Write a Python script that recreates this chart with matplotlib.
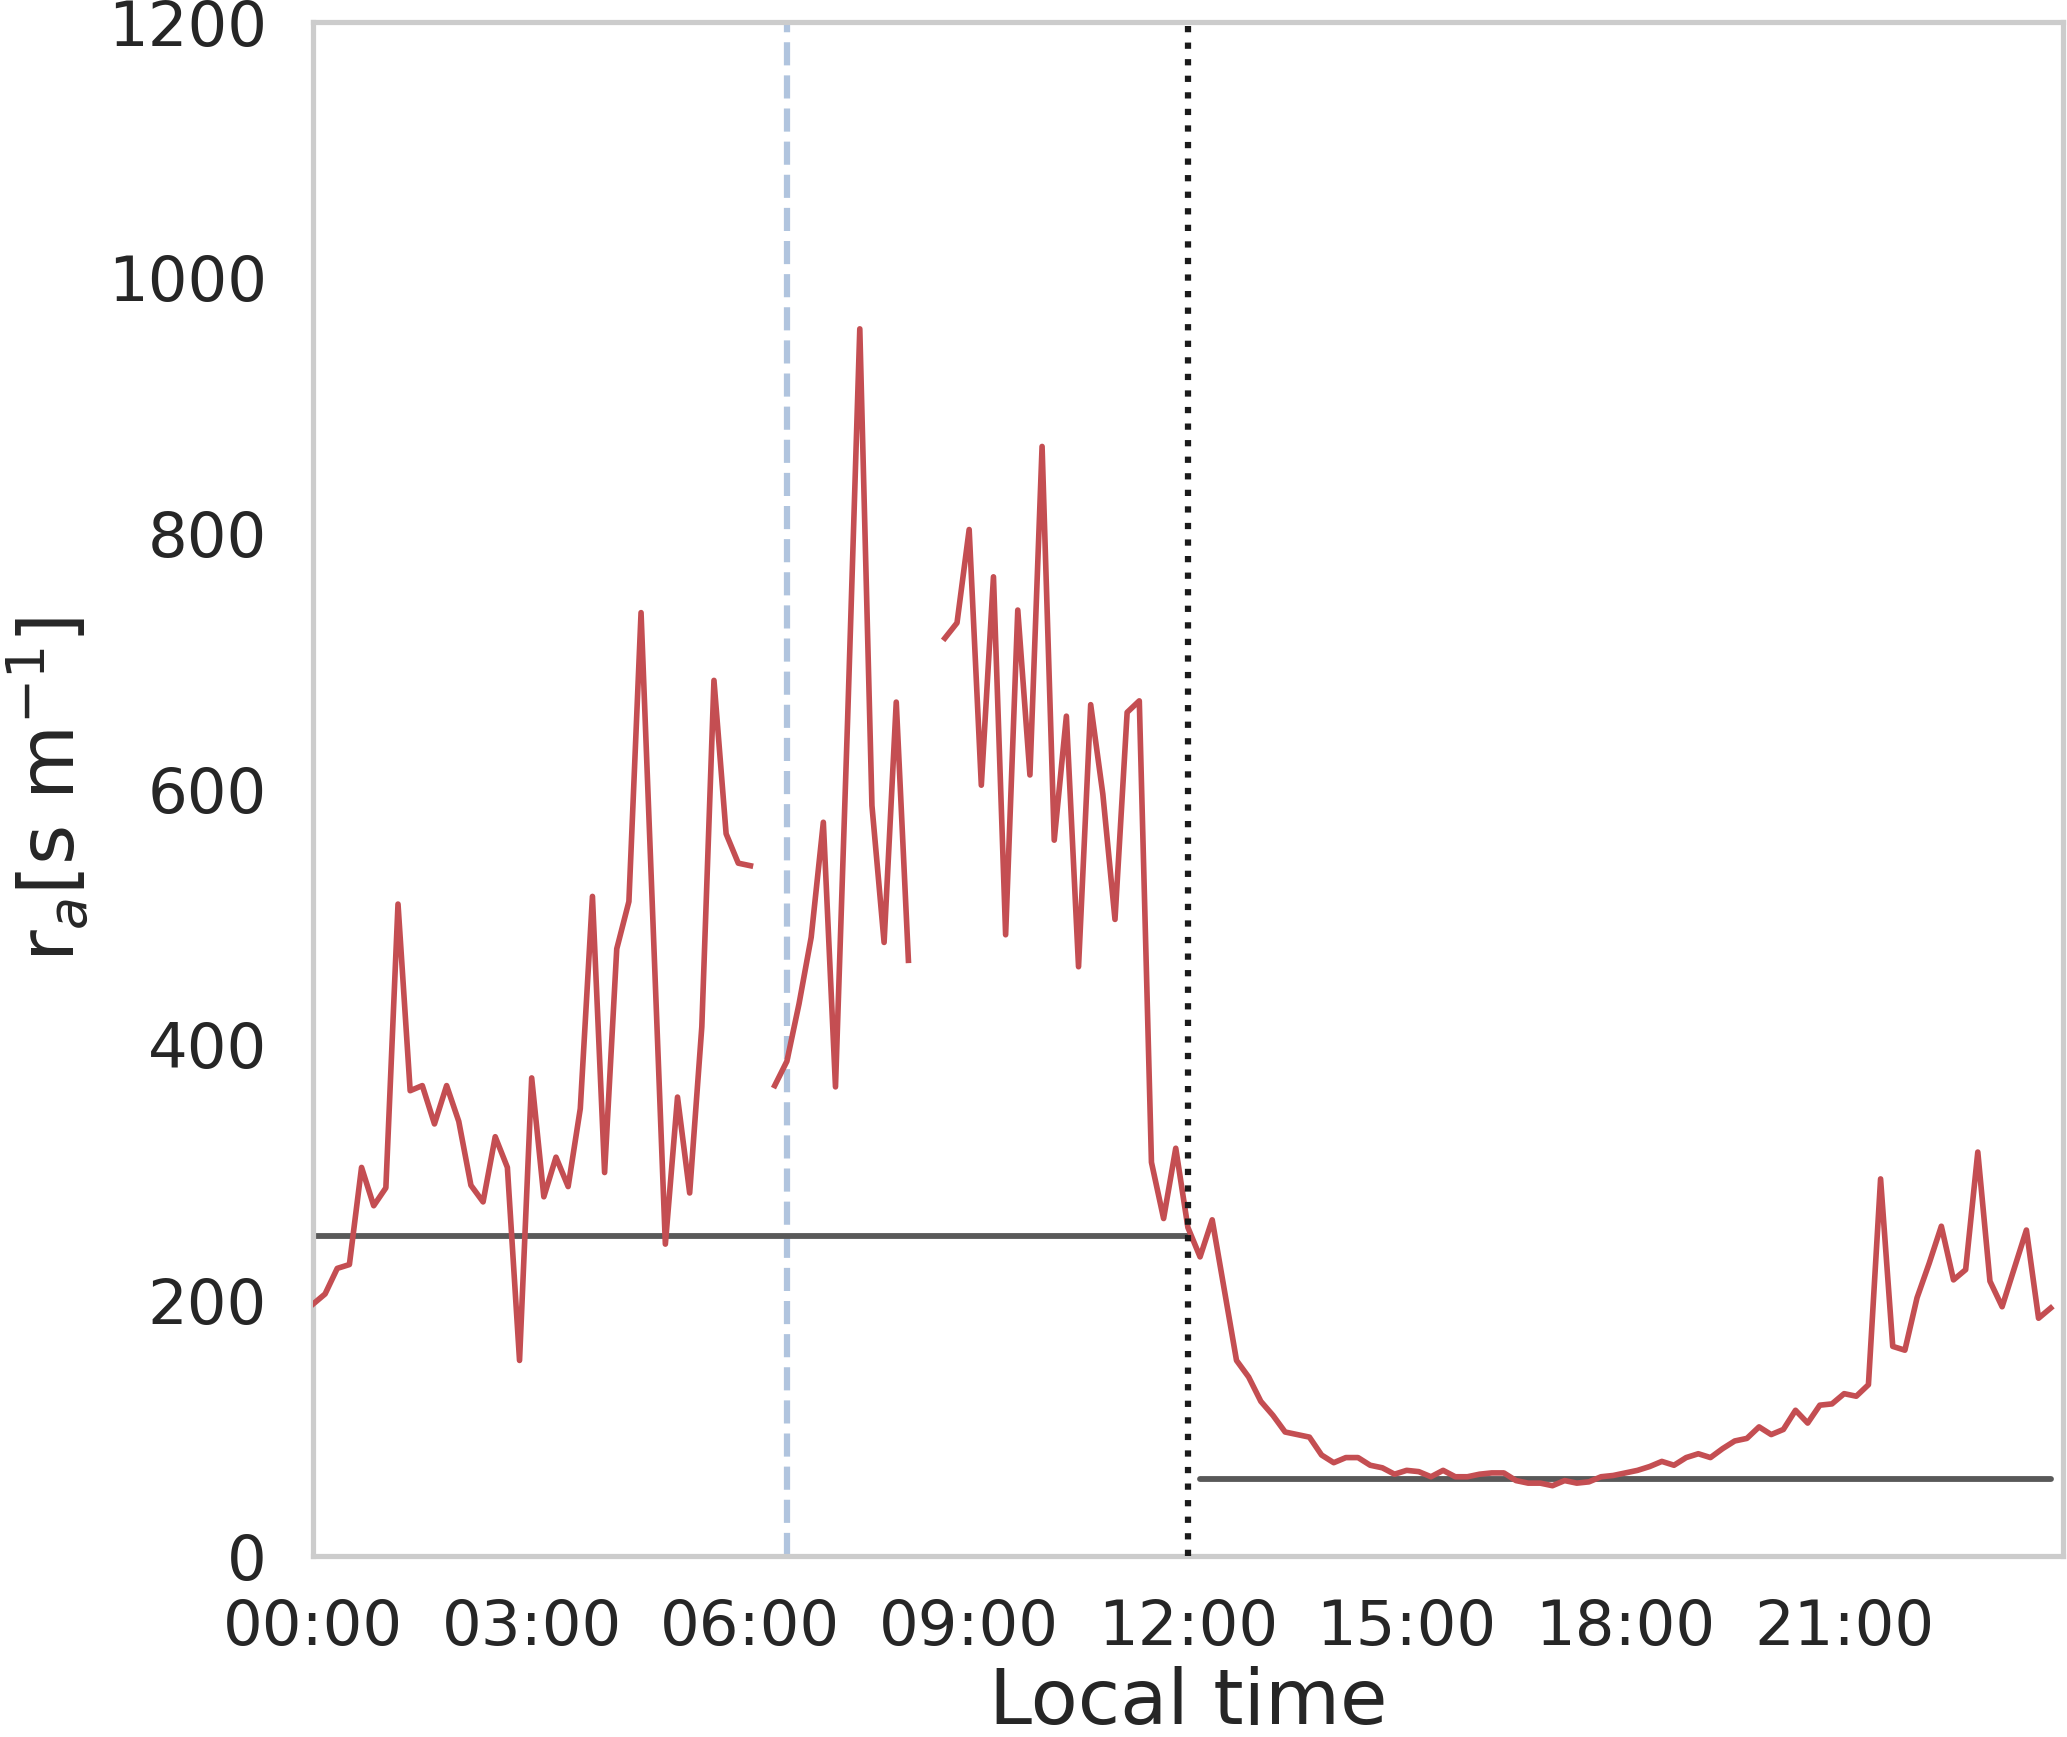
import numpy as np
import matplotlib
matplotlib.use("Agg")
import matplotlib.pyplot as plt

# ==========================
# DATA (10-minute values, 00:00 .. 23:50)
# ==========================

nan = np.nan

r_a = [
    197, 205, 225, 228, 304, 274, 288, 510, 364, 368, 338, 368,
    340, 290, 277, 328, 304, 153, 374, 281, 312, 289, 350, 516,
    300, 475, 512, 738, 490, 244, 359, 284, 414, 685, 565, 542,
    540, nan, 368, 387, 432, 484, 574, 367, 655, 960, 587, 480,
    668, 466, nan, nan, 718, 730, 803, 603, 766, 486, 740, 611,
    868, 560, 657, 461, 666, 596, 498, 660, 669, 308, 264, 319,
    257, 234, 263, 208, 153, 140, 121, 110, 97, 95, 93, 79,
    73, 77, 77, 71, 69, 64, 67, 66, 62, 67, 62, 62,
    64, 65, 65, 59, 57, 57, 55, 59, 57, 58, 62, 63,
    65, 67, 70, 74, 71, 77, 80, 77, 84, 90, 92, 101,
    95, 99, 114, 104, 118, 119, 127, 125, 134, 295, 164, 161,
    202, 229, 258, 216, 224, 316, 215, 195, 225, 255, 186, 194,
]

hours = np.arange(len(r_a)) / 6.0

# half-day levels
morning_level = 250
afternoon_level = 60
morning_span = [0.0, 12.0]
afternoon_span = [12 + 10 / 60, 23 + 50 / 60]

sunrise = 6.5
noon = 12.0

tick_hours = [0, 3, 6, 9, 12, 15, 18, 21]
tick_labels = ["%02d:00" % h for h in tick_hours]

# ==========================
# PLOT
# ==========================

plt.rcParams["font.family"] = ["DejaVu Sans"]

fig = plt.figure(figsize=(2067 / 300, 1737 / 300), dpi=300)
ax = fig.add_axes([0.1514, 0.1042, 0.998 - 0.1514, 0.9873 - 0.1042])

ax.plot(hours, r_a, color="#C44E52", lw=1.35, zorder=3)

ax.plot(morning_span, [morning_level, morning_level], color="0.35", lw=1.4, zorder=2)
ax.plot(afternoon_span, [afternoon_level, afternoon_level], color="0.35", lw=1.4,
        solid_capstyle="round", zorder=2)

ax.axvline(sunrise, color="#b0c4de", ls="--", lw=1.5, zorder=1)
ax.axvline(noon, color="#1a1a1a", ls=":", lw=1.5, zorder=4)

ax.set_xlim(0, 24)
ax.set_ylim(0, 1200)

ax.set_xticks(tick_hours)
ax.set_xticklabels(tick_labels)
ax.set_yticks(range(0, 1201, 200))

ax.tick_params(axis="both", length=0, labelsize=15, colors="#262626")
ax.tick_params(axis="y", pad=11)
ax.tick_params(axis="x", pad=10)

ax.set_xlabel("Local time", fontsize=18.5, color="#262626", labelpad=2)
ax.set_ylabel(r"r$_a$[s m$^{-1}$]", fontsize=18.5, color="#262626", labelpad=4)

for s in ax.spines.values():
    s.set_color("#cccccc")
    s.set_linewidth(1.25)

ax.grid(False)

fig.savefig("out.png", dpi=300)
